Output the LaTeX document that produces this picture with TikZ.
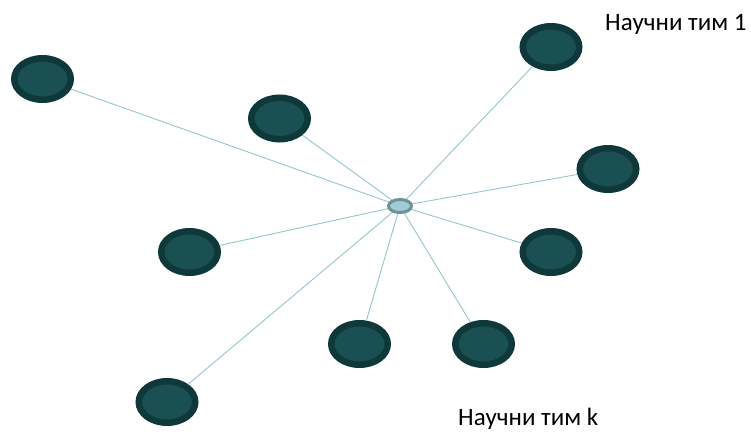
\documentclass[tikz,border=0pt]{standalone}
\usepackage{fontspec}
\setmainfont{Carlito}
\usetikzlibrary{shapes.geometric}
\definecolor{teamfill}{RGB}{27,80,82}
\definecolor{teamedge}{RGB}{14,56,58}
\definecolor{hubfill}{RGB}{160,205,210}
\definecolor{hubedge}{RGB}{108,148,152}
\definecolor{linkcol}{RGB}{150,196,205}
\tikzset{
  team/.style={ellipse, draw=teamedge, fill=teamfill, line width=6.5pt,
    minimum width=56.5pt, minimum height=41.5pt, inner sep=0pt},
  hub/.style={ellipse, draw=hubedge, fill=hubfill, line width=3pt,
    minimum width=23pt, minimum height=13pt, inner sep=0pt},
  link/.style={draw=linkcol, line width=0.9pt},
  label/.style={font=\fontsize{25}{29}\selectfont, text=black, inner sep=0pt}
}
\begin{document}
\begin{tikzpicture}[x=1pt, y=-1pt]
  \useasboundingbox (0,0) rectangle (751,431);
  % research teams around the central hub
  \node[team] (t1) at (551,47) {};
  \node[team] (t2) at (42.5,79) {};
  \node[team] (t3) at (279.5,118.5) {};
  \node[team] (t4) at (608,169) {};
  \node[team] (t5) at (189.5,252) {};
  \node[team] (t6) at (551,252) {};
  \node[team] (t7) at (359.5,344) {};
  \node[team] (t8) at (483.5,344) {};
  \node[team] (t9) at (167,402) {};
  \coordinate (c) at (400,206);
  % spokes
  \foreach \t in {t1,t2,t3,t4,t5,t6,t7,t8,t9}
    \draw[link] (c) -- (\t);
  \node[hub] (hub) at (c) {};
  % labels
  \node[label, anchor=base west] (l1) at (605,30) {Научни тим 1};
  \node[label, anchor=base west] (lk) at (458,425) {Научни тим k};
\end{tikzpicture}
\end{document}
